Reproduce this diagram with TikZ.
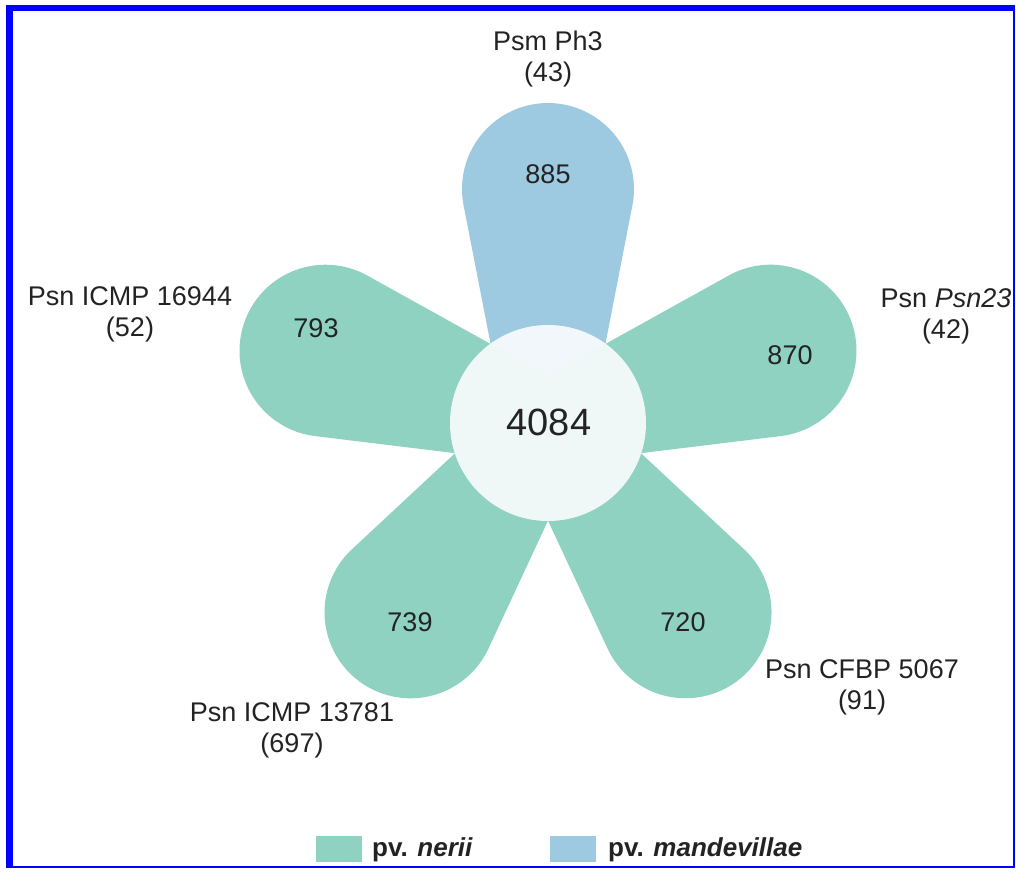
\documentclass[tikz,border=0pt]{standalone}
\usepackage{fontspec}
\setmainfont{Liberation Sans}
\definecolor{nerii}{RGB}{143,210,193}
\definecolor{mandev}{RGB}{157,202,225}
\definecolor{edgeblue}{RGB}{0,0,255}
\definecolor{ink}{RGB}{35,35,35}

\begin{document}
\begin{tikzpicture}[x=1pt, y=1pt,
  lbl/.style={align=center, font=\fontsize{27}{31}\selectfont, text=ink, inner sep=0pt},
  count/.style={font=\fontsize{27}{30}\selectfont, text=ink, inner sep=0pt},
  key/.style={anchor=west, font=\fontsize{26}{30}\selectfont\bfseries, text=ink, inner sep=0pt}]
\useasboundingbox (0,0) rectangle (1016,871);
\fill[edgeblue] (6,860) rectangle (1015,866);
\fill[edgeblue] (6,3) rectangle (12.5,866);
\fill[edgeblue] (1012.5,3) rectangle (1015,866);
\fill[edgeblue] (6,3) rectangle (1015,5.5);
\fill[mandev, shift={(548,448)}, rotate=0] (-42,0) -- (-84.4,217.4) arc[start angle=191.1, end angle=-11.1, radius=86] -- (42,0) -- cycle;
\fill[nerii, shift={(548,448)}, rotate=72] (-42,0) -- (-84.4,217.4) arc[start angle=191.1, end angle=-11.1, radius=86] -- (42,0) -- cycle;
\fill[nerii, shift={(548,448)}, rotate=144] (-42,0) -- (-84.4,217.4) arc[start angle=191.1, end angle=-11.1, radius=86] -- (42,0) -- cycle;
\fill[nerii, shift={(548,448)}, rotate=216] (-42,0) -- (-84.4,217.4) arc[start angle=191.1, end angle=-11.1, radius=86] -- (42,0) -- cycle;
\fill[nerii, shift={(548,448)}, rotate=288] (-42,0) -- (-84.4,217.4) arc[start angle=191.1, end angle=-11.1, radius=86] -- (42,0) -- cycle;
\fill[white, opacity=0.86] (548,448) circle[radius=98];
\node[count, font=\fontsize{38}{40}\selectfont] (core) at (549,449) {4084};
\node[count] (n885) at (548,697) {885};
\node[count] (n793) at (316,543) {793};
\node[count] (n870) at (790,516) {870};
\node[count] (n739) at (410,249) {739};
\node[count] (n720) at (683,249) {720};
\node[lbl] (ph3) at (548,812) {Psm Ph3\\(43)};
\node[lbl] (i16944) at (130,557) {Psn ICMP 16944\\(52)};
\node[lbl] (psn23) at (946,555) {Psn \textit{Psn23}\\(42)};
\node[lbl] (cfbp) at (862,184) {Psn CFBP 5067\\(91)};
\node[lbl] (i13781) at (292,141) {Psn ICMP 13781\\(697)};
\fill[nerii] (316,9) rectangle (362,35);
\node[key] (knerii) at (372,21) {pv. \textit{nerii}};
\fill[mandev] (550,9) rectangle (596,35);
\node[key] (kmandev) at (608,21) {pv. \textit{mandevillae}};
\end{tikzpicture}
\end{document}
